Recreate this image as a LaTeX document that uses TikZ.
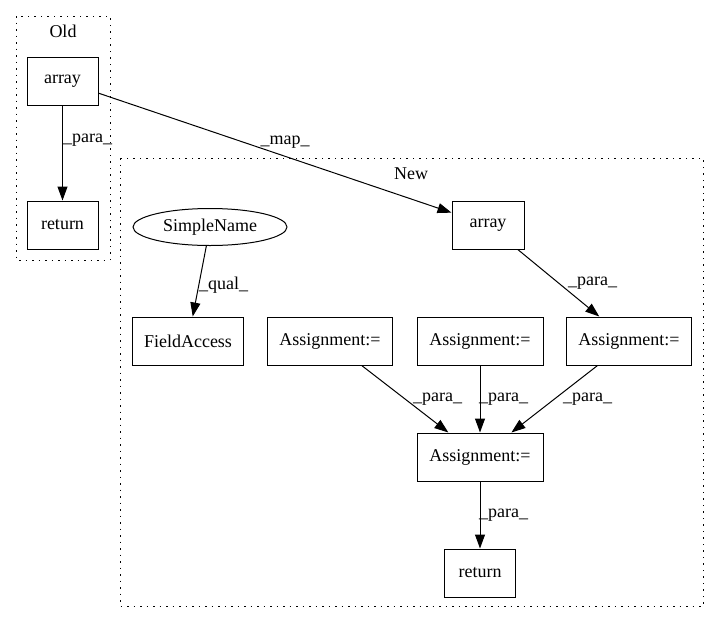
\documentclass[tikz,border=0pt]{standalone}
\usepackage{fontspec}
\setmainfont{Liberation Serif}
\usetikzlibrary{arrows.meta,shapes.geometric}
\begin{document}
\begin{tikzpicture}[x=1pt,y=-1pt,
  every node/.style={font=\fontsize{18}{20}\selectfont, inner sep=0pt},
  box/.style={draw, line width=1pt, rectangle, minimum height=48pt},
  ell/.style={draw, line width=1pt, ellipse, minimum width=154pt, minimum height=37pt},
  cluster/.style={draw, line width=1pt, dash pattern=on 1.5pt off 5pt},
  edge/.style={draw, line width=1pt, -{Triangle[length=14pt,width=10pt]}},
  lbl/.style={anchor=west}]
\useasboundingbox (0,0) rectangle (719,624);
% clusters
\draw[cluster] (16,16) rectangle (110,260);
\node (oldlbl) at (63,31) {Old};
\draw[cluster] (120,158) rectangle (703,606);
\node (newlbl) at (411,174) {New};
% nodes
\node[box, minimum width=71pt] (oarr) at (62.5,81) {array};
\node[box, minimum width=71pt] (oret) at (62.5,225) {return};
\node[box, minimum width=72pt] (narr) at (488,225) {array};
\node[ell] (sn) at (210,227) {SimpleName};
\node[box, minimum width=111pt] (fa) at (188,341) {FieldAccess};
\node[box, minimum width=125pt] (al) at (330,341) {Assignment:=};
\node[box, minimum width=126pt] (am) at (480,341) {Assignment:=};
\node[box, minimum width=125pt] (ar) at (629,341) {Assignment:=};
\node[box, minimum width=126pt] (ab) at (480,457) {Assignment:=};
\node[box, minimum width=71pt] (nret) at (480,573) {return};
% edges
\draw[edge] (oarr) -- (oret);
\draw[edge] (oarr) -- (narr);
\draw[edge] (sn) -- (fa);
\draw[edge] (narr) -- (ar);
\draw[edge] (al) -- (ab);
\draw[edge] (am) -- (ab);
\draw[edge] (ar) -- (ab);
\draw[edge] (ab) -- (nret);
% edge labels
\node[lbl] (l1) at (63,140) {\_para\_};
\node (l2) at (285,142) {\_map\_};
\node[lbl] (l3) at (199,285) {\_qual\_};
\node[lbl] (l4) at (568,283) {\_para\_};
\node[lbl] (l5) at (413,399) {\_para\_};
\node[lbl] (l6) at (479,399) {\_para\_};
\node[lbl] (l7) at (563,399) {\_para\_};
\node[lbl] (l8) at (479,515) {\_para\_};
\end{tikzpicture}
\end{document}
